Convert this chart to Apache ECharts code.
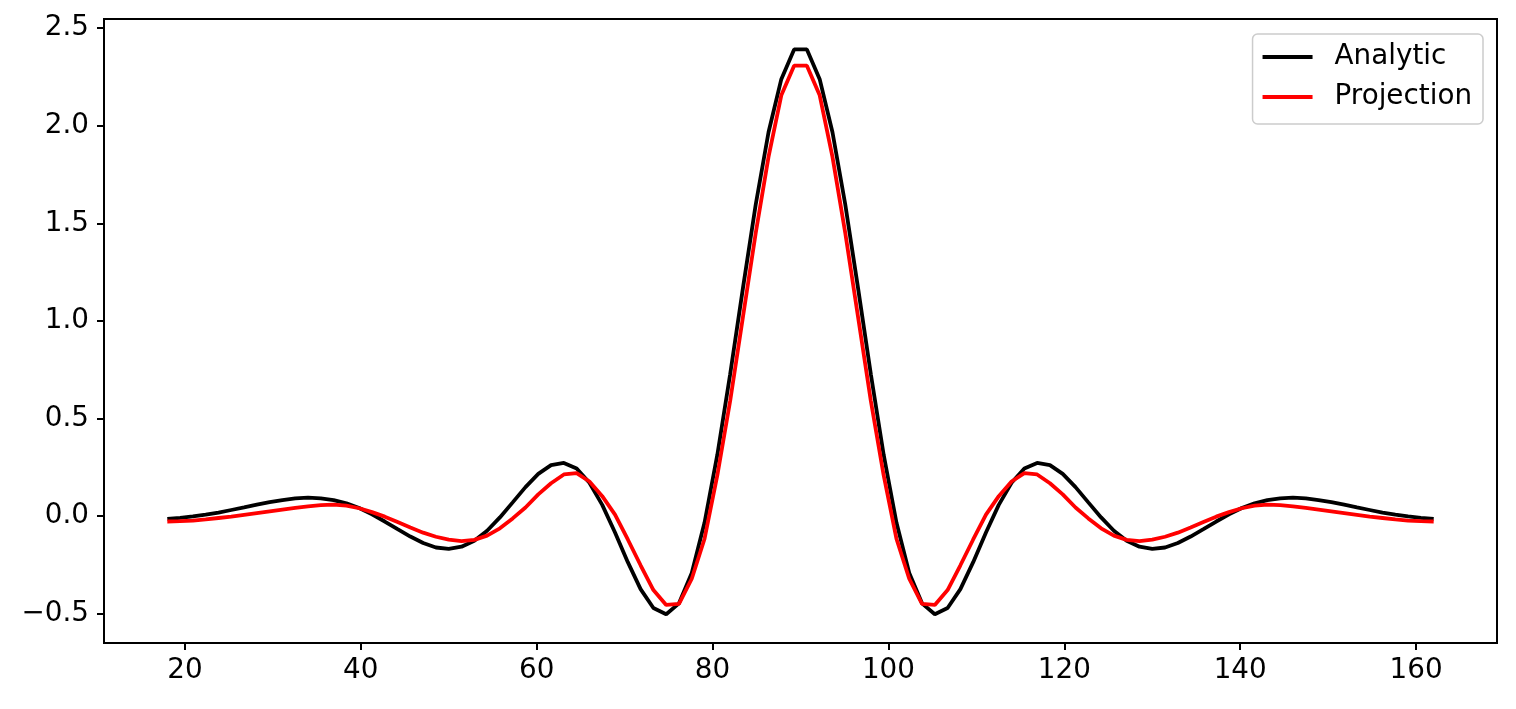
<!DOCTYPE html>
<html>
<head>
<meta charset="utf-8">
<script src="https://cdn.jsdelivr.net/npm/echarts@6/dist/echarts.min.js"></script>
<style>
  html, body { margin: 0; padding: 0; background: #fff; }
  #chart { width: 1516px; height: 709px; }
</style>
</head>
<body>
<div id="chart"></div>
<script>
const xValues = [
  18.000, 19.455, 20.909, 22.364, 23.818, 25.273, 26.727, 28.182, 29.636, 31.091,
  32.545, 34.000, 35.455, 36.909, 38.364, 39.818, 41.273, 42.727, 44.182, 45.636,
  47.091, 48.545, 50.000, 51.455, 52.909, 54.364, 55.818, 57.273, 58.727, 60.182,
  61.636, 63.091, 64.545, 66.000, 67.455, 68.909, 70.364, 71.818, 73.273, 74.727,
  76.182, 77.636, 79.091, 80.545, 82.000, 83.455, 84.909, 86.364, 87.818, 89.273,
  90.727, 92.182, 93.636, 95.091, 96.545, 98.000, 99.455, 100.909, 102.364, 103.818,
  105.273, 106.727, 108.182, 109.636, 111.091, 112.545, 114.000, 115.455, 116.909, 118.364,
  119.818, 121.273, 122.727, 124.182, 125.636, 127.091, 128.545, 130.000, 131.455, 132.909,
  134.364, 135.818, 137.273, 138.727, 140.182, 141.636, 143.091, 144.545, 146.000, 147.455,
  148.909, 150.364, 151.818, 153.273, 154.727, 156.182, 157.636, 159.091, 160.545, 162.000
];

const analytic = [
  -0.014, -0.008, -0.001, 0.008, 0.019, 0.032, 0.045, 0.059, 0.072, 0.083,
  0.091, 0.095, 0.092, 0.083, 0.066, 0.042, 0.010, -0.027, -0.066, -0.104,
  -0.137, -0.160, -0.167, -0.156, -0.125, -0.074, -0.006, 0.071, 0.149, 0.217,
  0.262, 0.273, 0.244, 0.171, 0.058, -0.083, -0.235, -0.373, -0.470, -0.502,
  -0.446, -0.290, -0.032, 0.315, 0.727, 1.168, 1.596, 1.966, 2.238, 2.390,
  2.390, 2.238, 1.966, 1.596, 1.168, 0.727, 0.315, -0.032, -0.290, -0.446,
  -0.502, -0.470, -0.373, -0.235, -0.083, 0.058, 0.171, 0.244, 0.273, 0.262,
  0.217, 0.149, 0.071, -0.006, -0.074, -0.125, -0.156, -0.167, -0.160, -0.137,
  -0.104, -0.066, -0.027, 0.010, 0.042, 0.066, 0.083, 0.092, 0.095, 0.091,
  0.083, 0.072, 0.059, 0.045, 0.032, 0.019, 0.008, -0.001, -0.008, -0.014
];

const projection = [
  -0.027, -0.025, -0.022, -0.016, -0.009, -0.002, 0.007, 0.016, 0.025, 0.034,
  0.043, 0.051, 0.057, 0.060, 0.054, 0.041, 0.021, -0.002, -0.030, -0.058,
  -0.084, -0.105, -0.120, -0.127, -0.121, -0.099, -0.062, -0.011, 0.045, 0.112,
  0.169, 0.214, 0.221, 0.178, 0.103, 0.008, -0.119, -0.251, -0.378, -0.454,
  -0.449, -0.320, -0.115, 0.210, 0.590, 1.020, 1.450, 1.840, 2.155, 2.307,
  2.307, 2.155, 1.840, 1.450, 1.020, 0.590, 0.210, -0.115, -0.320, -0.449,
  -0.454, -0.378, -0.251, -0.119, 0.008, 0.103, 0.178, 0.221, 0.214, 0.169,
  0.112, 0.045, -0.011, -0.062, -0.099, -0.121, -0.127, -0.120, -0.105, -0.084,
  -0.058, -0.030, -0.002, 0.021, 0.041, 0.054, 0.060, 0.057, 0.051, 0.043,
  0.034, 0.025, 0.016, 0.007, -0.002, -0.009, -0.016, -0.022, -0.025, -0.027
];

const xTicks = [20, 40, 60, 80, 100, 120, 140, 160];
const yTicks = [-0.5, 0.0, 0.5, 1.0, 1.5, 2.0, 2.5];

const FONT = 'DejaVu Sans';
const FS = 27.8;

const chart = echarts.init(document.getElementById('chart'), null, { renderer: 'canvas' });

function fmtY(v) {
  const s = Number(v).toFixed(1);
  return s.replace('-', '\u2212');
}

chart.setOption({
  animation: false,
  backgroundColor: '#ffffff',
  grid: {
    left: 104, right: 19, top: 19, bottom: 66,
    show: true, borderColor: '#000000', borderWidth: 2, backgroundColor: 'transparent'
  },
  legend: {
    orient: 'vertical',
    right: 33, top: 34,
    padding: [8, 11, 12, 10],
    itemWidth: 50, itemHeight: 4, itemGap: 10,
    icon: 'rect',
    backgroundColor: 'rgba(255,255,255,0.8)',
    borderColor: '#cccccc', borderWidth: 1.5, borderRadius: 5,
    textStyle: { fontFamily: FONT, fontSize: FS, color: '#000', lineHeight: 30, padding: [0, 0, 0, 17] },
    data: ['Analytic', 'Projection']
  },
  xAxis: {
    type: 'value',
    min: 10.8, max: 169.2,
    axisLine: { show: false, onZero: false },
    splitLine: { show: false },
    axisTick: { show: true, customValues: xTicks, length: 7, lineStyle: { color: '#000', width: 2 } },
    axisLabel: {
      customValues: xTicks, margin: 14, color: '#000',
      fontFamily: FONT, fontSize: FS,
      formatter: v => String(v)
    }
  },
  yAxis: {
    type: 'value',
    min: -0.649, max: 2.546,
    axisLine: { show: false, onZero: false },
    splitLine: { show: false },
    axisTick: { show: true, customValues: yTicks, length: 7, lineStyle: { color: '#000', width: 2 } },
    axisLabel: {
      customValues: yTicks, margin: 15, color: '#000',
      fontFamily: FONT, fontSize: FS,
      formatter: fmtY
    }
  },
  series: [
    {
      name: 'Analytic', type: 'line', symbol: 'none', showSymbol: false,
      color: '#000000',
      lineStyle: { color: '#000000', width: 3.8 },
      data: xValues.map((x, i) => [x, analytic[i]])
    },
    {
      name: 'Projection', type: 'line', symbol: 'none', showSymbol: false,
      color: '#ff0000',
      lineStyle: { color: '#ff0000', width: 3.8 },
      data: xValues.map((x, i) => [x, projection[i]])
    }
  ]
});
</script>
</body>
</html>
